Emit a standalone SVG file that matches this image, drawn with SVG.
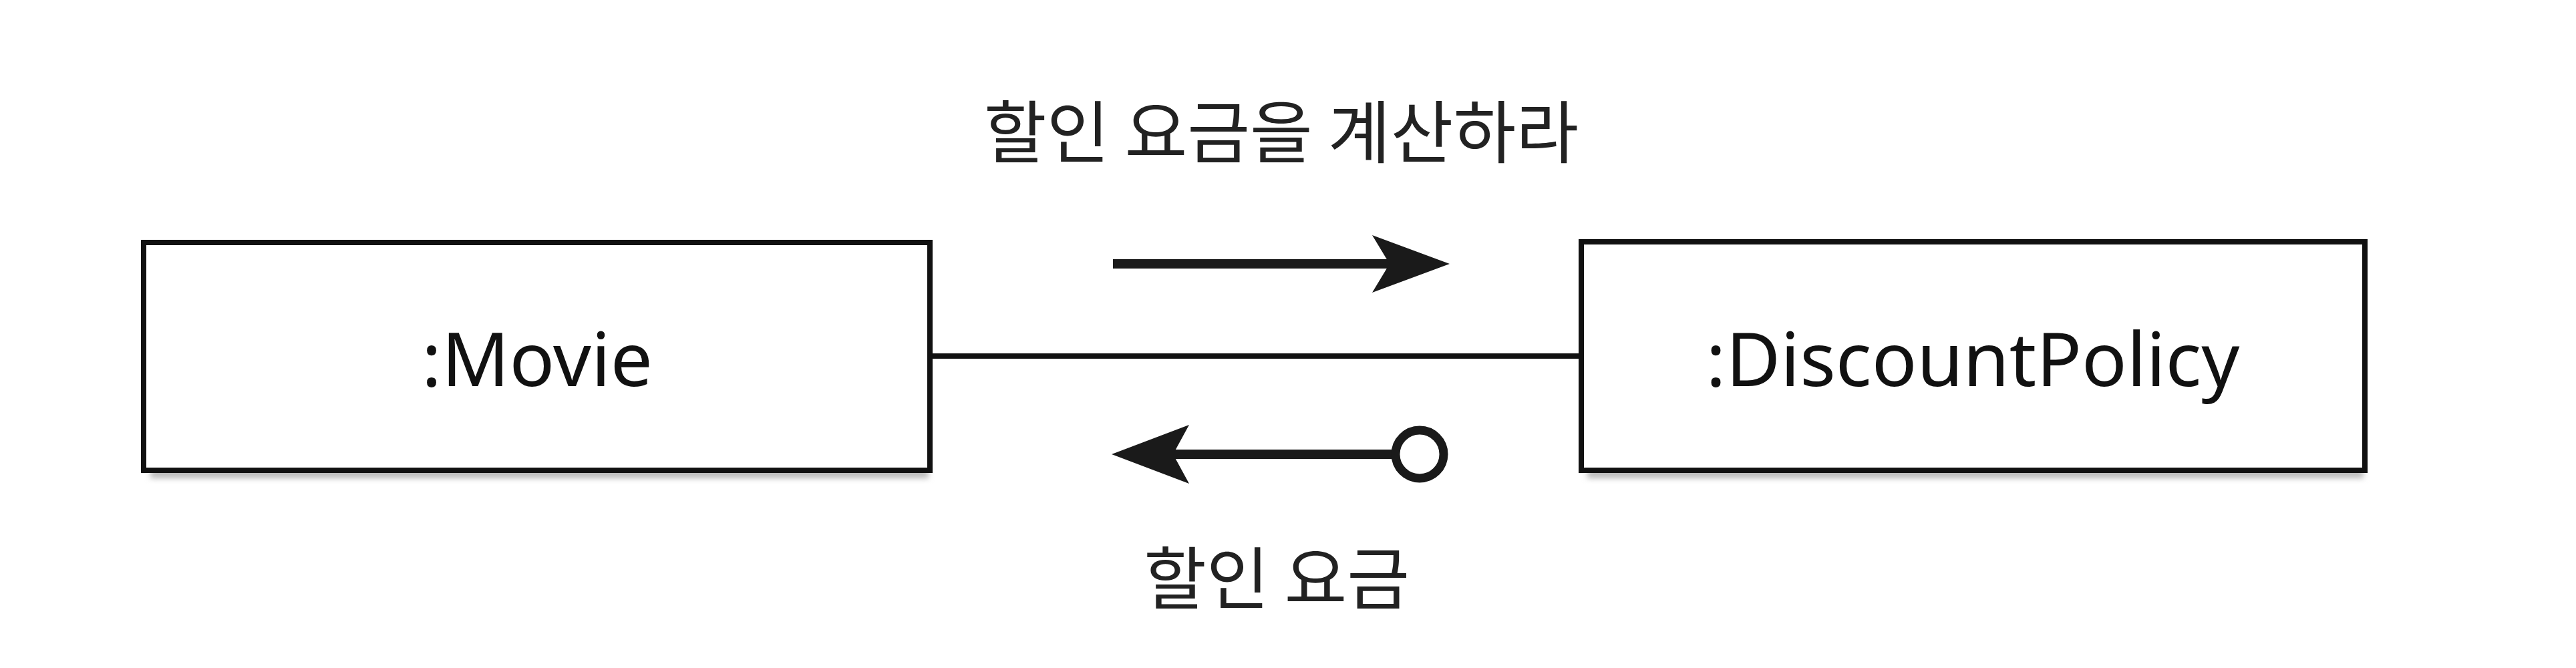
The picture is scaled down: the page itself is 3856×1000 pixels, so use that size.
<svg xmlns="http://www.w3.org/2000/svg" width="3856" height="1000" viewBox="0 0 3856 1000">
<style>
.box{fill:#fff;stroke:#111;stroke-width:8}
.shadow{fill:#bbb}
.name{font-family:"Noto Sans","Open Sans",sans-serif;font-size:112px;fill:#111;text-anchor:middle}
.lbl{font-family:"Noto Sans CJK KR","Noto Sans",sans-serif;font-size:102px;fill:#222;text-anchor:middle}
.msg{stroke:#1a1a1a;stroke-width:14;fill:none}
.head{fill:#1a1a1a}
</style>
<defs>
<filter id="blur" x="-5%" y="-50%" width="110%" height="200%"><feGaussianBlur stdDeviation="4"/></filter>
</defs>
<rect width="3856" height="1000" fill="#fff"/>
<g id="movie">
<rect class="shadow" x="225" y="700" width="1165" height="16" filter="url(#blur)"/>
<rect class="box" x="215" y="363" width="1177" height="341"/>
<text class="name" x="804" y="578">:Movie</text>
</g>
<g id="discountPolicy">
<rect class="shadow" x="2376" y="700" width="1162" height="16" filter="url(#blur)"/>
<rect class="box" x="2367" y="362" width="1173" height="342"/>
<text class="name" x="2953" y="578">:DiscountPolicy</text>
</g>
<g id="connectors">
<line x1="1392" y1="533" x2="2367" y2="533" stroke="#111" stroke-width="8"/>
<line class="msg" x1="1666" y1="395" x2="2085" y2="395"/>
<polygon class="head" points="2170,395 2054,352 2080,395 2054,438"/>
<line class="msg" x1="1755" y1="680" x2="2090" y2="680"/>
<polygon class="head" points="1664,680 1780,636 1756,680 1780,724"/>
<circle cx="2125" cy="680" r="36" fill="#fff" stroke="#1a1a1a" stroke-width="13"/>
</g>
<g id="labels">
<text class="lbl" x="1918" y="236">할인 요금을 계산하라</text>
<text class="lbl" x="1911" y="904">할인 요금</text>
</g>
</svg>
